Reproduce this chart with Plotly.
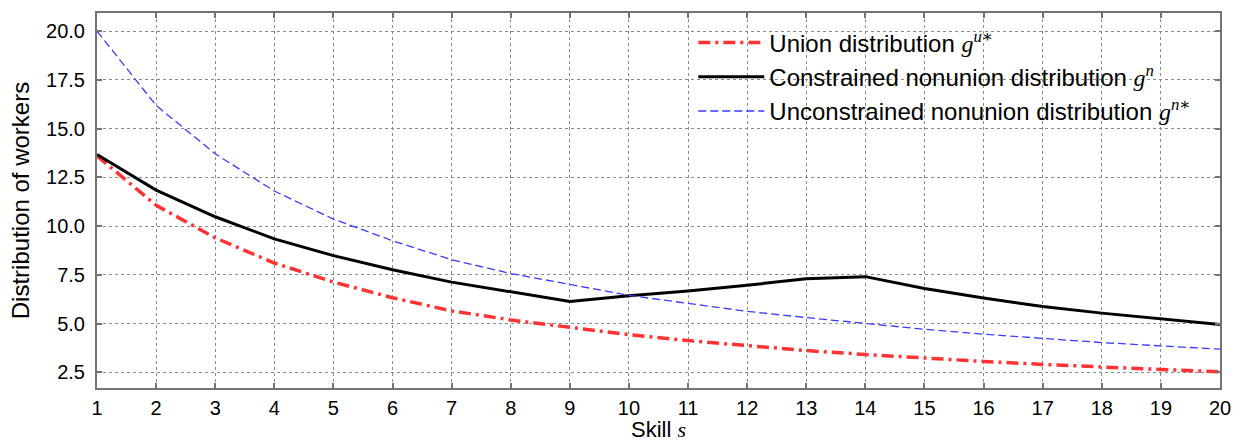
import plotly.graph_objects as go

skill = list(range(1, 21))
union_g = [13.6, 11.07, 9.4, 8.11, 7.13, 6.33, 5.65, 5.19, 4.81, 4.44,
           4.13, 3.86, 3.62, 3.42, 3.23, 3.06, 2.91, 2.76, 2.65, 2.53]
constrained_g = [13.67, 11.85, 10.48, 9.35, 8.49, 7.76, 7.13, 6.63, 6.14, 6.43,
                 6.68, 6.97, 7.30, 7.41, 6.80, 6.31, 5.88, 5.54, 5.24, 4.95]
unconstrained_g = [20.0, 16.19, 13.71, 11.80, 10.36, 9.25, 8.28, 7.57, 7.01, 6.45,
                   6.04, 5.63, 5.31, 5.0, 4.71, 4.46, 4.23, 4.03, 3.86, 3.69]
y_ticks = [2.5, 5.0, 7.5, 10.0, 12.5, 15.0, 17.5, 20.0]

SERIF = "'Liberation Serif', 'DejaVu Serif', serif"
SANS = "'Liberation Sans', Arial, Helvetica, sans-serif"

W, H = 1242, 444
M = dict(l=97, r=15, t=11, b=56)
plot_h = H - M["t"] - M["b"]

def math(base, sup):
    return (f"<span style=\"font-family:{SERIF}\"><i>{base}</i>"
            f"<sup>{sup}</sup></span>")

names = [
    "Union distribution " + math("g", "<i>u</i>∗"),
    "Constrained nonunion distribution " + math("g", "<i>n</i>"),
    "Unconstrained nonunion distribution " + math("g", "<i>n</i>∗"),
]

fig = go.Figure()
fig.add_trace(go.Scatter(x=skill, y=union_g, mode="lines", name=names[0],
                         line=dict(color="#ff3333", width=3.5, dash="12px,5px,3px,5px")))
fig.add_trace(go.Scatter(x=skill, y=constrained_g, mode="lines", name=names[1],
                         line=dict(color="#000000", width=3)))
fig.add_trace(go.Scatter(x=skill, y=unconstrained_g, mode="lines", name=names[2],
                         line=dict(color="#3a3aff", width=1.3, dash="8px,4px")))

axis_common = dict(
    showline=True, linecolor="#737373", linewidth=2, mirror="ticks",
    ticks="inside", ticklen=5, tickcolor="#737373", tickwidth=1.5,
    showgrid=True, gridcolor="#8a8a8a", gridwidth=1, griddash="3px,3px",
    zeroline=False, tickfont=dict(family=SANS, size=20, color="black"),
)

fig.update_layout(
    width=W, height=H,
    margin=M,
    paper_bgcolor="white", plot_bgcolor="white",
    font=dict(family=SANS, color="black"),
    showlegend=True,
    legend=dict(x=0.531, y=0.98, xanchor="left", yanchor="top",
                bgcolor="rgba(255,255,255,0)", borderwidth=0,
                font=dict(family=SANS, size=24, color="black"),
                itemwidth=66, tracegroupgap=0),
    xaxis=dict(range=[1, 20], tickmode="array", tickvals=skill,
               ticktext=[str(s) for s in skill], ticklabelstandoff=1,
               **axis_common),
    yaxis=dict(range=[1.70, 20.93], tickmode="array", tickvals=y_ticks,
               ticktext=[f"{v:.1f}" for v in y_ticks], ticklabelstandoff=6,
               title=dict(text="Distribution of workers",
                          font=dict(family=SANS, size=24), standoff=10),
               **axis_common),
    annotations=[dict(
        text=f"Skill <i style=\"font-family:{SERIF}\">s</i>",
        xref="paper", yref="paper", x=0.5, y=-(M["b"] - 1) / plot_h,
        xanchor="center", yanchor="bottom", showarrow=False, borderpad=0,
        font=dict(family=SANS, size=22, color="black"))],
)

fig.write_html(
    "out.html",
    config={"displayModeBar": False},
    post_script="document.body.style.margin='0';document.body.style.overflow='hidden';",
)
